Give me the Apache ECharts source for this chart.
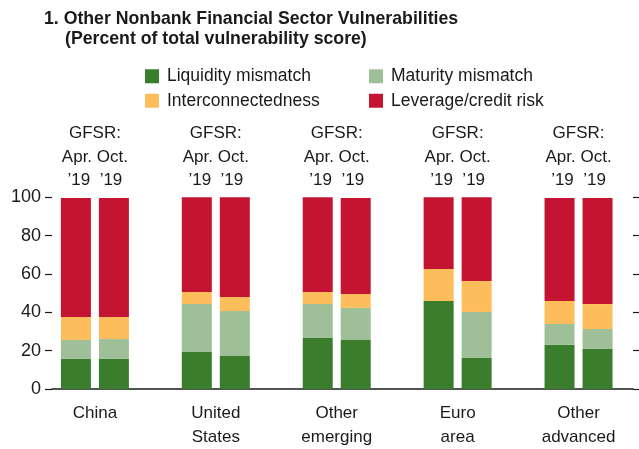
<!DOCTYPE html>
<html>
<head>
<meta charset="utf-8">
<script src="https://cdn.jsdelivr.net/npm/echarts@6/dist/echarts.min.js"></script>
<style>
html,body{margin:0;padding:0;background:#fff;}
#chart{width:639px;height:449px;}
</style>
</head>
<body>
<div id="chart"></div>
<script>
// ---- data ----
var categories = ['China', 'United\nStates', 'Other\nemerging', 'Euro\narea', 'Other\nadvanced'];
var topLabel = 'GFSR:\nApr. Oct.\n\u201919  \u201919';
var seriesNames = ['Liquidity mismatch', 'Maturity mismatch', 'Interconnectedness', 'Leverage/credit risk'];
var liqApr = [15.7, 19.3, 26.6, 45.9, 23.0];
var matApr = [9.9, 25.0, 17.7, 0, 10.9];
var intApr = [12.0, 6.3, 6.3, 16.7, 12.0];
var levApr = [62.0, 49.4, 49.4, 37.4, 53.7];
var liqOct = [15.7, 17.2, 25.6, 16.2, 20.9];
var matOct = [10.4, 23.5, 16.7, 24.0, 10.4];
var intOct = [11.5, 7.3, 7.3, 16.1, 13.0];
var levOct = [62.0, 52.0, 50.0, 43.7, 55.3];
var yTicks = [0, 20, 40, 60, 80, 100];

// ---- styling ----
var FONT = "'Liberation Sans', Arial, sans-serif";
var TXT = '#1a1a1a';
var colors = ['#3a7d2d', '#9fbf98', '#fdbd5a', '#c41432'];

var chart = echarts.init(document.getElementById('chart'), null, {renderer: 'canvas'});

function bar(name, stack, data, idx) {
  return {
    name: name, type: 'bar', stack: stack, data: data,
    xAxisIndex: 1, yAxisIndex: 2,
    barWidth: 30, barGap: '26.67%',
    itemStyle: {color: colors[idx]},
    emphasis: {disabled: true},
    animation: false
  };
}

var aprData = [liqApr, matApr, intApr, levApr];
var octData = [liqOct, matOct, intOct, levOct];
var series = [];
for (var i = 0; i < 4; i++) series.push(bar(seriesNames[i], 'apr', aprData[i], i));
for (var j = 0; j < 4; j++) series.push(bar(seriesNames[j], 'oct', octData[j], j));

var yMin = yTicks[0], yMax = yTicks[yTicks.length - 1], yStep = yTicks[1] - yTicks[0];

var option = {
  animation: false,
  backgroundColor: '#fff',
  textStyle: {fontFamily: FONT, color: TXT},
  title: [
    {text: '1. Other Nonbank Financial Sector Vulnerabilities', left: 44, top: 10.5, padding: 0,
     textStyle: {fontFamily: FONT, fontWeight: 'bold', fontSize: 17.7, color: TXT}},
    {text: '(Percent of total vulnerability score)', left: 65, top: 30.5, padding: 0,
     textStyle: {fontFamily: FONT, fontWeight: 'bold', fontSize: 17.7, color: TXT}}
  ],
  legend: [
    {data: [seriesNames[0], seriesNames[2]], orient: 'vertical', left: 145, top: 67.25, padding: 0,
     itemWidth: 14, itemHeight: 14, itemGap: 6.5, icon: 'rect', selectedMode: false,
     textStyle: {fontFamily: FONT, fontSize: 17.5, color: TXT, padding: [0, 0, 0, 3]}},
    {data: [seriesNames[1], seriesNames[3]], orient: 'vertical', left: 369, top: 67.25, padding: 0,
     itemWidth: 14, itemHeight: 14, itemGap: 6.5, icon: 'rect', selectedMode: false,
     textStyle: {fontFamily: FONT, fontSize: 17.5, color: TXT, padding: [0, 0, 0, 3]}}
  ],
  grid: [
    {left: 52, width: 581, top: 197.3, height: 191.7, containLabel: false},
    {left: 34.45, width: 615.5, top: 197.3, height: 191.7, containLabel: false}
  ],
  xAxis: [
    {gridIndex: 0, type: 'category', data: categories.map(function(){return '';}), boundaryGap: true,
     axisLine: {lineStyle: {color: TXT, width: 1.5}},
     axisTick: {inside: true, length: 7, lineStyle: {color: TXT, width: 1.2}},
     axisLabel: {show: false}, splitLine: {show: false}},
    {gridIndex: 1, type: 'category', data: categories, position: 'bottom',
     axisLine: {show: false}, axisTick: {show: false}, splitLine: {show: false},
     axisLabel: {fontFamily: FONT, fontSize: 17, lineHeight: 24, color: TXT, margin: 12, interval: 0}},
    {gridIndex: 1, type: 'category', data: categories.map(function(){return topLabel;}), position: 'top',
     axisLine: {show: false}, axisTick: {show: false}, splitLine: {show: false},
     axisLabel: {fontFamily: FONT, fontSize: 17, lineHeight: 23.5, color: TXT, margin: 5, interval: 0}}
  ],
  yAxis: [
    {gridIndex: 0, type: 'value', min: yMin, max: yMax, interval: yStep, position: 'left',
     axisLine: {show: false}, axisTick: {show: true, length: 7, lineStyle: {color: TXT, width: 1.2}},
     axisLabel: {fontFamily: FONT, fontSize: 18, color: TXT, margin: 11}, splitLine: {show: false}},
    {gridIndex: 0, type: 'value', min: yMin, max: yMax, interval: yStep, position: 'right',
     axisLine: {show: false}, axisTick: {show: true, length: 7, lineStyle: {color: TXT, width: 1.2}},
     axisLabel: {show: false}, splitLine: {show: false}},
    {gridIndex: 1, type: 'value', min: yMin, max: yMax, interval: yStep, show: false}
  ],
  series: series
};
chart.setOption(option);
</script>
</body>
</html>
